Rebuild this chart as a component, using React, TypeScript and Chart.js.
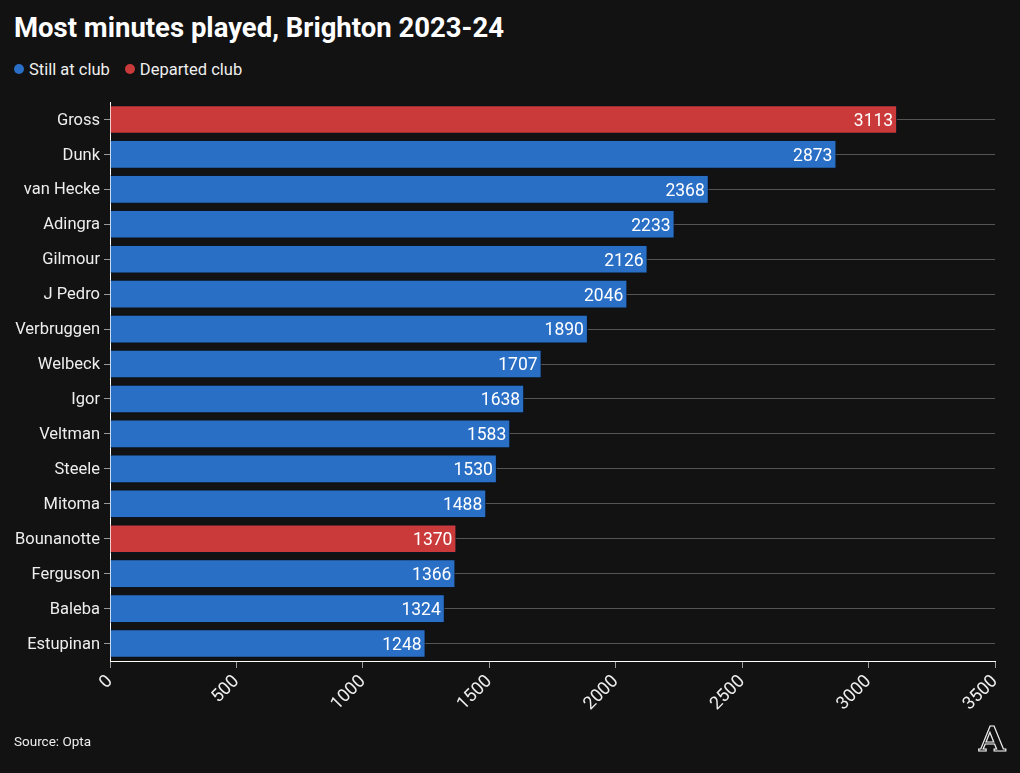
import React, { useEffect, useRef } from "react";
import { Chart, registerables } from "chart.js";

Chart.register(...registerables);

const players = [
  "Gross", "Dunk", "van Hecke", "Adingra", "Gilmour", "J Pedro", "Verbruggen", "Welbeck",
  "Igor", "Veltman", "Steele", "Mitoma", "Bounanotte", "Ferguson", "Baleba", "Estupinan",
];
const minutes = [3113, 2873, 2368, 2233, 2126, 2046, 1890, 1707, 1638, 1583, 1530, 1488, 1370, 1366, 1324, 1248];
const departed = [true, false, false, false, false, false, false, false, false, false, false, false, true, false, false, false];
const xTicks = [0, 500, 1000, 1500, 2000, 2500, 3000, 3500];

const BLUE = "#2a6fc6";
const RED = "#cb3a3a";
const BG = "#121212";
const FONT = "Roboto, 'Liberation Sans', sans-serif";

const valueLabels = {
  id: "valueLabels",
  afterDatasetsDraw(chart: any) {
    const ctx = chart.ctx;
    const meta = chart.getDatasetMeta(0);
    ctx.save();
    ctx.font = `17.5px ${FONT}`;
    ctx.fillStyle = "#ffffff";
    ctx.textAlign = "right";
    ctx.textBaseline = "middle";
    meta.data.forEach((bar: any, i: number) => {
      ctx.fillText(String(minutes[i]), bar.x - 4, bar.y + 2);
    });
    ctx.restore();
  },
};

export default function App() {
  const ref = useRef<HTMLCanvasElement | null>(null);

  useEffect(() => {
    document.body.style.margin = "0";
    document.body.style.background = BG;
    const chart = new Chart(ref.current as HTMLCanvasElement, {
      type: "bar",
      data: {
        labels: players,
        datasets: [
          {
            data: minutes,
            backgroundColor: departed.map((d) => (d ? RED : BLUE)),
            borderColor: "#0b1522",
            borderWidth: 1,
            barPercentage: 0.82,
            categoryPercentage: 1,
          },
        ],
      },
      options: {
        indexAxis: "y",
        animation: false,
        responsive: false,
        maintainAspectRatio: false,
        layout: { padding: { top: 102, right: 25, bottom: 42, left: 0 } },
        plugins: { legend: { display: false }, tooltip: { enabled: false }, title: { display: false } },
        scales: {
          x: {
            type: "linear",
            min: 0,
            max: 3500,
            afterBuildTicks: (scale: any) => {
              scale.ticks = xTicks.map((v) => ({ value: v }));
            },
            afterFit: (scale: any) => {
              scale.height = 70;
            },
            border: { display: true, color: "#ffffff", width: 1 },
            grid: { display: true, drawOnChartArea: false, drawTicks: true, tickLength: 7, tickColor: "#9a9a9a" },
            ticks: {
              color: "#eeeeee",
              font: { family: FONT, size: 18 },
              minRotation: 45,
              maxRotation: 45,
              padding: 3,
              callback: (v: any) => String(v),
            },
          },
          y: {
            type: "category",
            afterFit: (scale: any) => {
              scale.width = 110;
            },
            border: { display: true, color: "#ffffff", width: 1 },
            grid: {
              display: true,
              offset: false,
              color: "#555555",
              lineWidth: 1,
              drawTicks: true,
              tickLength: 6,
              tickColor: "#9a9a9a",
            },
            ticks: { color: "#eeeeee", font: { family: FONT, size: 16.5 }, padding: 4, labelOffset: 1 },
          },
        },
      },
      plugins: [valueLabels],
    } as any);
    return () => chart.destroy();
  }, []);

  return (
    <div style={{ position: "relative", width: 1020, height: 773, background: BG, overflow: "hidden", fontFamily: FONT }}>
      <div style={{ position: "absolute", left: 14, top: 14, fontSize: 27.5, lineHeight: "28px", fontWeight: 700, color: "#ffffff", whiteSpace: "nowrap" }}>
        Most minutes played, Brighton 2023-24
      </div>
      <div style={{ position: "absolute", left: 14, top: 60, height: 18, display: "flex", alignItems: "center", fontSize: 16.5, color: "#eeeeee", whiteSpace: "nowrap" }}>
        <span style={{ display: "inline-block", width: 10, height: 10, borderRadius: 5, background: BLUE, marginRight: 5 }} />
        <span>Still at club</span>
        <span style={{ display: "inline-block", width: 10, height: 10, borderRadius: 5, background: RED, marginLeft: 15, marginRight: 5 }} />
        <span>Departed club</span>
      </div>
      <canvas ref={ref} width={1020} height={773} style={{ position: "absolute", left: 0, top: 0, width: 1020, height: 773 }} />
      <div style={{ position: "absolute", left: 14, top: 733, fontSize: 13.5, color: "#eeeeee" }}>Source: Opta</div>
      <div style={{ position: "absolute", left: 979, top: 722, fontSize: 34, lineHeight: "34px", fontFamily: "'DejaVu Serif', serif", fontWeight: 700, color: BG, WebkitTextStroke: "1.2px #eeeeee" as any }}>
        A
      </div>
    </div>
  );
}
